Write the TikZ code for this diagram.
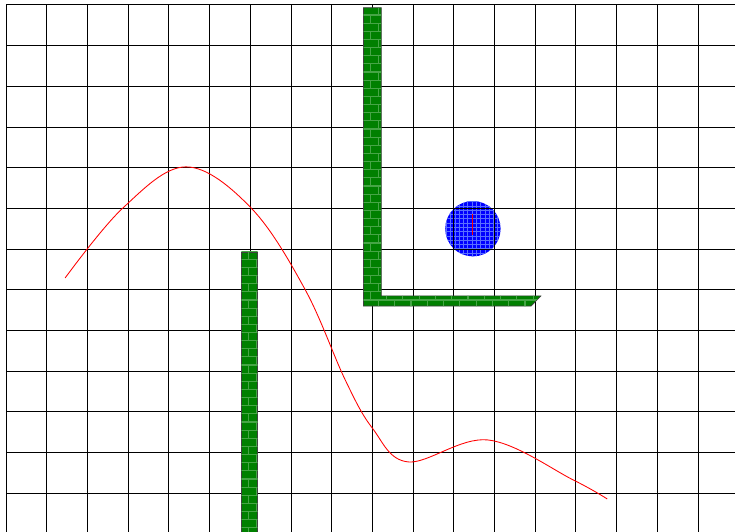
\documentclass[tikz,border=0pt]{standalone}
\usetikzlibrary{patterns}
\definecolor{brickline}{RGB}{70,165,70}
\definecolor{ballline}{RGB}{90,110,255}

\begin{document}
\begin{tikzpicture}[wall/.style={draw=black!75,line width=.5pt,fill=green!50!black,postaction={pattern=bricks,pattern color=brickline}},
  ball/.style={fill=blue,postaction={pattern=grid,pattern color=ballline}},
  track/.style={red,line width=.6pt}]
  \useasboundingbox (-0.15,0.12) rectangle (17.91,-12.95);
  \clip (-0.15,0.12) rectangle (17.91,-12.95);
  \coordinate (bc) at (11.47,-5.5);
  \fill[ball] (bc) circle (0.68);
  \draw[line width=.6pt] (0,0) grid (18.5,-13.5);
  \draw[wall] (8.78,-0.07) -- (9.22,-0.07) -- (9.22,-7.15) -- (13.14,-7.15) -- (12.9,-7.40) -- (8.78,-7.40) -- cycle;
  \draw[wall] (5.78,-6.07) rectangle (6.18,-13.5);
  \draw[track] (bc) ++(0,.35) -- ++(0,-.5);
  \draw[track] plot[smooth,tension=.6] coordinates {(1.45,-6.71) (2.87,-4.99) (4.42,-3.98) (6.02,-4.99) (7.35,-7.0) (8.33,-9.21) (9.0,-10.4) (9.88,-11.23) (11.84,-10.69) (13.93,-11.67) (14.77,-12.14)};
\end{tikzpicture}
\end{document}
